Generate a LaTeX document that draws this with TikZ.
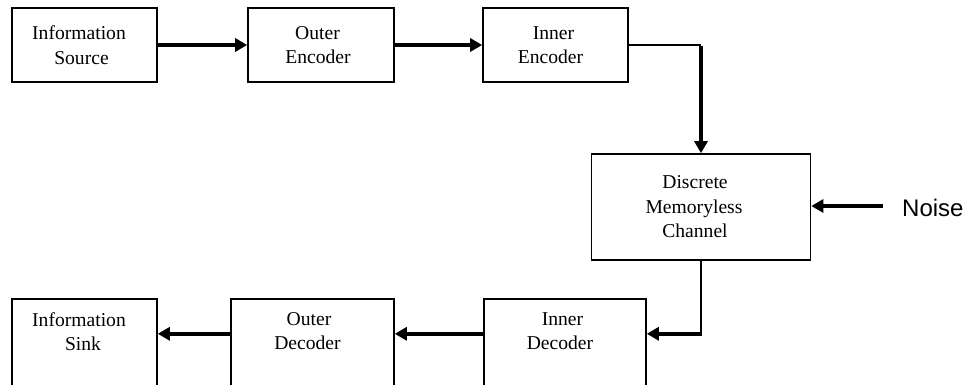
\documentclass[tikz,border=0pt]{standalone}
\usepackage{fontspec}
\setmainfont{Liberation Serif}
\newfontfamily\noisefont{Liberation Sans}
\usetikzlibrary{arrows.meta}
% a line of text nudged to the left by half of #1
\newcommand\tx[2]{\hbox{#2\kern#1\relax}}
\begin{document}
\begin{tikzpicture}[x=1pt,y=-1pt,
  box/.style={draw, line width=1.6pt, inner sep=0pt, align=center,
    font=\fontsize{19.6}{24.5}\selectfont},
  topbox/.style={box, minimum width=#1, minimum height=74pt},
  botbox/.style={box, anchor=north, minimum width=#1, inner ysep=13.5pt, text depth=90pt},
  thinline/.style={line width=1.5pt},
  thickarrow/.style={line width=3.5pt, -{Triangle[length=12pt,width=13pt]}}]
\useasboundingbox (0,0) rectangle (967,385);
\clip (0,0) rectangle (967,385);
% top row
\node[topbox=145pt] (src) at (84.5,45) {\tx{11pt}{Information}\\\tx{6pt}{Source}};
\node[topbox=146pt] (oenc) at (321,45) {\tx{7pt}{Outer}\\\tx{6pt}{Encoder}};
\node[topbox=145pt] (ienc) at (555.5,45) {\tx{4pt}{Inner}\\\tx{10pt}{Encoder}};
% channel
\node[box, minimum width=219pt, minimum height=106pt] (chan) at (701,207)
  {\tx{12pt}{Discrete}\\\tx{14pt}{Memoryless}\\\tx{12pt}{Channel}};
\node[anchor=west, inner sep=0pt, font=\noisefont\fontsize{24}{28}\selectfont] (noise) at (902,208) {Noise};
% bottom row
\node[botbox=145pt] (sink) at (84.5,298) {\tx{11pt}{Information}\\\tx{3pt}{Sink}};
\node[botbox=163pt] (odec) at (312.5,298) {\tx{7pt}{Outer}\\\tx{10pt}{Decoder}};
\node[botbox=162pt] (idec) at (565,298) {\tx{5pt}{Inner}\\\tx{10pt}{Decoder}};
% connectors
\draw[thickarrow] (src.east) -- (oenc.west);
\draw[thickarrow] (oenc.east) -- (ienc.west);
\coordinate (c1) at (chan.north |- ienc.east);
\draw[thinline] (ienc.east) -- (c1);
\draw[thickarrow] ([yshift=-0.75pt]c1) -- (chan.north);
\coordinate (nz) at (883,206);
\draw[thickarrow] (nz) -- (nz -| chan.east);
\path (chan.south) ++(0,73) coordinate (c2);
\draw[thinline] (chan.south) -- ([yshift=0.75pt]c2);
\draw[thickarrow] ([xshift=0.75pt]c2) -- (c2 -| idec.east);
\draw[thickarrow] (idec.west |- c2) -- (odec.east |- c2);
\draw[thickarrow] (odec.west |- c2) -- (sink.east |- c2);
\end{tikzpicture}
\end{document}
